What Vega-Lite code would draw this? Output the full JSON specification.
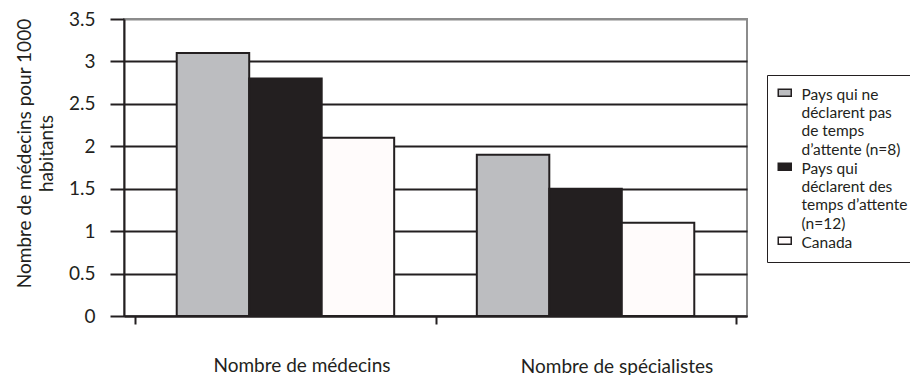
{
  "$schema": "https://vega.github.io/schema/vega-lite/v6.json",
  "width": 623,
  "height": 297,
  "autosize": "none",
  "padding": {"left": 124, "top": 19, "right": 163, "bottom": 59},
  "background": "white",
  "config": {
    "font": "Lato",
    "view": {"stroke": "#8c8c8c", "strokeWidth": 2}
  },
  "title": {
    "text": "Nombre de médecins pour 1000",
    "orient": "left", "anchor": "middle", "frame": "group",
    "fontSize": 19, "fontWeight": "normal", "color": "#231f20",
    "offset": 2, "dx": 14
  },
  "data": {
    "values": [
      {"cat": "Nombre de médecins", "serie": "Pays qui ne|déclarent pas|de temps|d’attente (n=8)", "ord": 1, "v": 3.1},
      {"cat": "Nombre de médecins", "serie": "Pays qui|déclarent des|temps d’attente|(n=12)", "ord": 2, "v": 2.8},
      {"cat": "Nombre de médecins", "serie": "Canada", "ord": 3, "v": 2.1},
      {"cat": "Nombre de spécialistes", "serie": "Pays qui ne|déclarent pas|de temps|d’attente (n=8)", "ord": 1, "v": 1.9},
      {"cat": "Nombre de spécialistes", "serie": "Pays qui|déclarent des|temps d’attente|(n=12)", "ord": 2, "v": 1.5},
      {"cat": "Nombre de spécialistes", "serie": "Canada", "ord": 3, "v": 1.1}
    ]
  },
  "mark": {"type": "bar", "stroke": "#231f20", "strokeWidth": 2},
  "encoding": {
    "x": {
      "field": "cat", "type": "nominal", "sort": null,
      "scale": {"paddingInner": 0, "paddingOuter": 0.038},
      "axis": {
        "title": null, "labelAngle": 0, "labelFontSize": 19, "labelColor": "#231f20",
        "labelBaseline": "alphabetic", "labelLimit": 400,
        "labelPadding": {"condition": {"test": "datum.value == 'Nombre de spécialistes'", "value": 48}, "value": 47},
        "labelOffset": {"condition": {"test": "datum.value == 'Nombre de spécialistes'", "value": 31}, "value": 16},
        "tickBand": "extent", "tickSize": 8, "tickWidth": 2, "tickColor": "#231f20",
        "domainColor": "#231f20", "domainWidth": 2
      }
    },
    "xOffset": {
      "field": "serie", "type": "nominal", "sort": {"field": "ord"},
      "scale": {"paddingInner": 0, "paddingOuter": 0.57}
    },
    "y": {
      "field": "v", "type": "quantitative",
      "scale": {"domain": [0, 3.5], "nice": false},
      "axis": {
        "title": "habitants",
        "titleFontSize": 19, "titleFontWeight": "normal", "titleColor": "#231f20",
        "titleAlign": "center", "titlePadding": 12, "titleY": 134,
        "values": [0, 0.5, 1, 1.5, 2, 2.5, 3, 3.5], "format": "~g",
        "labelFontSize": 19, "labelColor": "#231f20", "labelPadding": 15,
        "tickSize": 14, "tickWidth": 2, "tickColor": "#231f20",
        "domainColor": "#231f20", "domainWidth": 2,
        "grid": true, "gridWidth": 2,
        "gridColor": {"condition": {"test": "datum.value == 3.5", "value": "#8c8c8c"}, "value": "#231f20"}
      }
    },
    "fill": {
      "field": "serie", "type": "nominal", "sort": {"field": "ord"},
      "scale": {"range": ["#bcbdc0", "#231f20", "#fffbfb"]},
      "legend": {
        "title": null, "orient": "none", "legendX": 643, "legendY": 56,
        "labelExpr": "split(datum.label, '|')",
        "labelFontSize": 15.5, "labelColor": "#231f20", "labelLimit": 200,
        "labelBaseline": "top", "labelOffset": 9,
        "symbolType": "M-1,-0.55H1V0.55H-1Z", "symbolSize": 169,
        "symbolStrokeColor": "#231f20", "symbolStrokeWidth": 1.5,
        "strokeColor": "#231f20", "padding": 10, "rowPadding": -11,
        "encode": {"labels": {"update": {"lineHeight": {"value": 18.3}, "dy": {"value": -5}}}}
      }
    }
  }
}
